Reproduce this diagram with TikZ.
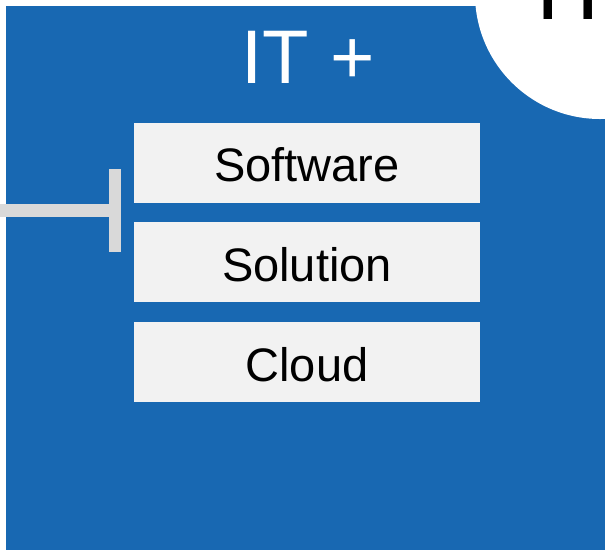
\documentclass[tikz,border=0pt]{standalone}
\usepackage{fontspec}
\setmainfont{Liberation Sans}
\definecolor{itblue}{HTML}{1868B2}
\definecolor{boxgray}{HTML}{F2F2F2}
\definecolor{linegray}{HTML}{D9D9D9}
\begin{document}
\begin{tikzpicture}[x=1pt,y=-1pt,
  itembox/.style={fill=boxgray, minimum width=346pt, minimum height=80pt, inner sep=0pt,
    text height=38pt, text depth=0pt, font=\fontsize{47}{47}\selectfont, text=black},
  connline/.style={draw=linegray, line width=12.7pt},
  barline/.style={draw=linegray, line width=12pt}]
\useasboundingbox (0,0) rectangle (605,550);
\clip (0,0) rectangle (605,550);
\fill[itblue] (6,6) rectangle (605,550);
\fill[white] (600,-6) circle[radius=125];
\node[anchor=base west, inner sep=0pt, font=\fontsize{91}{91}\selectfont, text=black] (circ) at (520.4,19) {TP};
\node[anchor=base, inner sep=0pt, font=\fontsize{76}{76}\selectfont, text=white] (title) at (308,83) {IT +};
\node[itembox] (software) at (307,162.5) {Software};
\node[itembox] (solution) at (307,262) {Solution};
\node[itembox] (cloud) at (307,362) {Cloud};
\coordinate (lstart) at (0,210.5);
\coordinate (lend) at (115,210.5);
\coordinate (barT) at (115,169);
\coordinate (barB) at (115,252);
\draw[connline] (lstart) -- (lend);
\draw[barline] (barT) -- (barB);
\end{tikzpicture}
\end{document}
